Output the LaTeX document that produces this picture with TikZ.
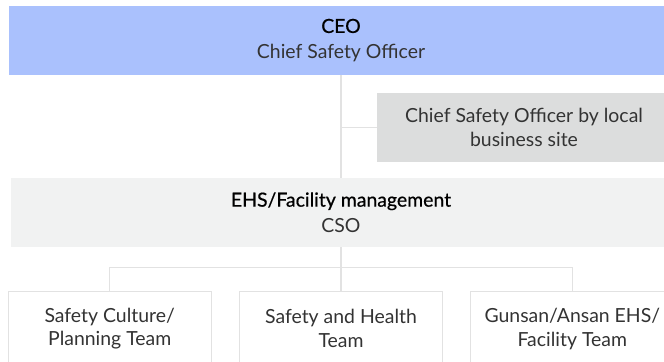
\documentclass[tikz,border=0pt]{standalone}
\usepackage{fontspec}
\setmainfont{Lato}
\newfontfamily\medfont[FakeBold=0.6]{Lato}
\usetikzlibrary{positioning}

\definecolor{ceoblue}{RGB}{170,193,253}
\definecolor{sitegray}{RGB}{220,221,221}
\definecolor{mgmtgray}{RGB}{241,242,242}
\definecolor{linegray}{RGB}{226,226,226}
\definecolor{textgray}{RGB}{51,51,51}

\begin{document}
\begin{tikzpicture}
   [
      x=1bp, y=-1bp,
      head box/.style={rectangle, fill=ceoblue, inner sep=0pt, minimum width=664bp,
                       minimum height=69bp, align=center, text=textgray,
                       font=\fontsize{19.5}{26}\selectfont},
      site box/.style={rectangle, fill=sitegray, inner sep=0pt, minimum width=294bp,
                       minimum height=69bp, align=center, text=textgray,
                       font=\fontsize{19.5}{24}\selectfont},
      mgmt box/.style={head box, fill=mgmtgray, minimum width=660bp},
      team box/.style={rectangle, draw=linegray, line width=1.3bp, fill=white,
                       inner sep=0pt, minimum width=203bp, minimum height=74bp,
                       align=center, text=textgray, font=\fontsize{19.5}{24}\selectfont},
      link/.style={draw=linegray, line width=1.5bp}
   ]

   % frame of the picture
   \useasboundingbox (0,0) rectangle (664,361);

   % =======================================================
   % Top: CEO and local site officer
   % =======================================================

   \node[head box] (ceo) at (341,40.5)
      {{\medfont\color{black}CEO}\\Chief Safety Officer};

   \node[site box] (site) at (524,127.5)
      {Chief Safety Officer by local\\business site};

   % =======================================================
   % Middle: EHS/Facility management
   % =======================================================

   \node[mgmt box] (ehs) at (341,212.5)
      {{\medfont\color{black}EHS/Facility management}\\CSO};

   % =======================================================
   % Bottom: teams
   % =======================================================

   \node[team box, anchor=north] (team2) at (341,291) {Safety and Health\\Team};
   \node[team box, left=27bp of team2] (team1) {Safety Culture/\\Planning Team};
   \node[team box, right=27bp of team2] (team3) {Gunsan/Ansan EHS/\\Facility Team};

   % Connectors
   \coordinate (bus) at (341,267.5);
   \draw[link] (ceo.south) -- (ehs.north);
   \draw[link] (ceo.south |- site.west) -- (site.west);
   \draw[link] (ehs.south) -- (team2.north);
   \draw[link] (team1.north) |- (bus) -| (team3.north);

\end{tikzpicture}
\end{document}
